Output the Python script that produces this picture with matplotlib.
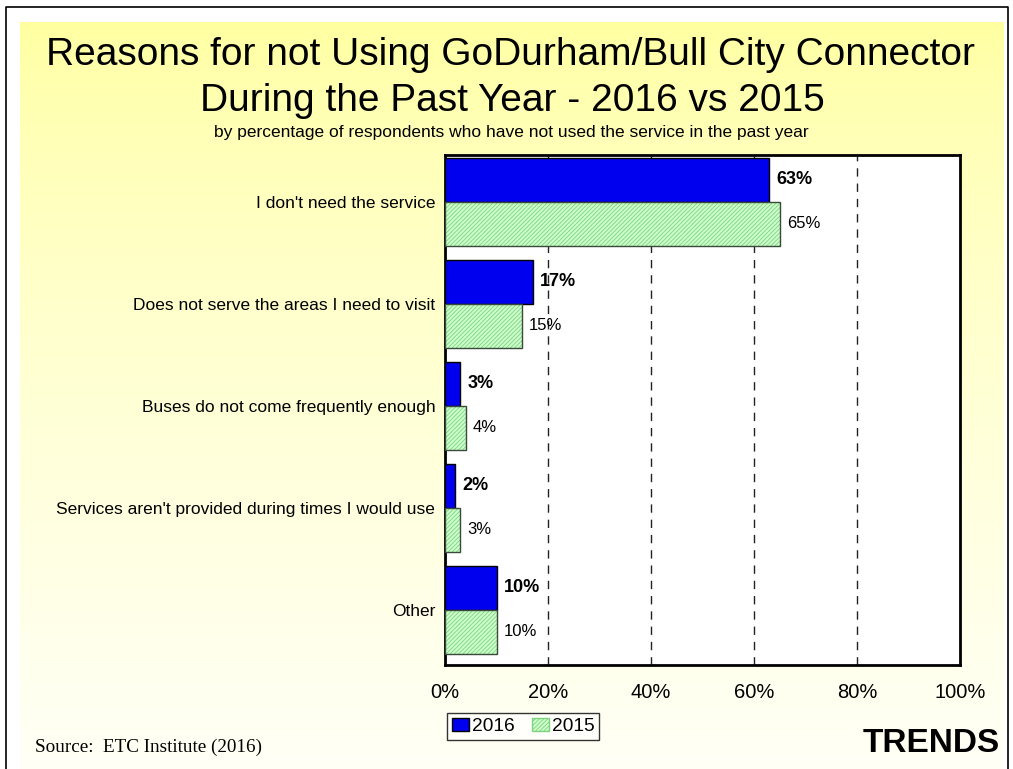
import matplotlib

matplotlib.use("AGG")

import matplotlib.pyplot as plt  # isort:skip
import numpy as np  # isort:skip
from matplotlib.patches import Patch  # isort:skip

W, H = 1013, 769

categories = [
    "I don't need the service",
    "Does not serve the areas I need to visit",
    "Buses do not come frequently enough",
    "Services aren't provided during times I would use",
    "Other",
]
values_2016 = [63, 17, 3, 2, 10]
values_2015 = [65, 15, 4, 3, 10]
xtick_values = [0, 20, 40, 60, 80, 100]
xtick_labels = ["0%", "20%", "40%", "60%", "80%", "100%"]

BLUE = "#0000EE"
GREEN = "#CCFFCC"
HATCH_GREEN = "#7ED27E"
HATCH = "////////"

plt.rcParams["font.family"] = ["Liberation Sans", "DejaVu Sans"]
plt.rcParams["hatch.linewidth"] = 0.6

fig = plt.figure(figsize=(W / 100, H / 100), dpi=100)
fig.patch.set_facecolor("white")


def px(x, y):
    # pixel coords (top-left origin) to figure fraction
    return x / W, 1 - y / H


# background: yellow fading downwards, inside a thin black frame
bg = fig.add_axes([0, 0, 1, 1], zorder=-10)
bg.set_xlim(0, W)
bg.set_ylim(H, 0)
bg.axis("off")
top = np.array([255, 255, 160]) / 255
bottom = np.array([255, 255, 246]) / 255
t = np.linspace(0, 1, 256)[:, None] ** 0.7
grad = (top[None, :] * (1 - t) + bottom[None, :] * t)[:, None, :]
bg.imshow(grad, extent=[20, 1004, H, 22], aspect="auto", interpolation="bilinear")
bg.plot([6, 6, 1008, 1008], [H, 7, 7, H], color="black", lw=1.2)

# titles
fig.text(*px(510, 55), "Reasons for not Using GoDurham/Bull City Connector",
         ha="center", va="center", fontsize=28)
fig.text(*px(512, 101), "During the Past Year - 2016 vs 2015",
         ha="center", va="center", fontsize=28)
fig.text(*px(511, 133),
         "by percentage of respondents who have not used the service in the past year",
         ha="center", va="center", fontsize=12.5)

# main chart
x0, y0 = px(445, 665)
x1, y1 = px(960, 155)
ax = fig.add_axes([x0, y0, x1 - x0, y1 - y0])
ax.set_facecolor("white")

y = np.arange(len(categories)) - 0.04
h = 0.43

ax.barh(y - h / 2, values_2016, height=h, color=BLUE, edgecolor="black",
        linewidth=1, zorder=3)
ax.barh(y + h / 2, values_2015, height=h, color=GREEN, edgecolor=HATCH_GREEN,
        hatch=HATCH, linewidth=0, zorder=3)
ax.barh(y + h / 2, values_2015, height=h, fill=False, edgecolor="#3a4a3a",
        linewidth=1, zorder=4)

for yi, v in zip(y, values_2016):
    ax.annotate(f"{v}%", (v, yi - h / 2), xytext=(5, 0), textcoords="offset points",
                ha="left", va="center", fontsize=13, fontweight="bold")
for yi, v in zip(y, values_2015):
    ax.annotate(f"{v}%", (v, yi + h / 2), xytext=(5, 0), textcoords="offset points",
                ha="left", va="center", fontsize=12)

ax.set_xlim(0, 100)
ax.set_ylim(len(categories) - 0.5, -0.5)
ax.set_xticks(xtick_values)
ax.set_xticklabels(xtick_labels, fontsize=14.5)
ax.set_yticks(y)
ax.set_yticklabels(categories, fontsize=12.5)
ax.tick_params(axis="x", length=0, pad=13)
ax.tick_params(axis="y", length=0, pad=7)

for gx in xtick_values[1:-1]:
    ax.axvline(gx, color="#222222", lw=1, linestyle=(0, (6, 5)), zorder=1)

for sp in ax.spines.values():
    sp.set_linewidth(2)
    sp.set_color("black")

# legend
handles = [
    Patch(facecolor=BLUE, edgecolor="black", linewidth=1),
    Patch(facecolor=GREEN, edgecolor=HATCH_GREEN, hatch=HATCH, linewidth=1),
]
leg = fig.legend(handles, ["2016", "2015"], loc="upper left",
                 bbox_to_anchor=px(447, 713), ncol=2, fontsize=13.8,
                 frameon=True, fancybox=False, borderpad=0.25,
                 handlelength=0.9, handleheight=0.7, handletextpad=0.15,
                 columnspacing=0.9, borderaxespad=0)
leg.get_frame().set_edgecolor("black")
leg.get_frame().set_linewidth(1)

fig.text(*px(35, 747), "Source:  ETC Institute (2016)", ha="left", va="center",
         fontsize=13.8, family=["Liberation Serif", "DejaVu Serif"])
fig.text(*px(1000, 743), "TRENDS", ha="right", va="center", fontsize=24,
         fontweight="bold")

fig.savefig("out.png", dpi=100)
